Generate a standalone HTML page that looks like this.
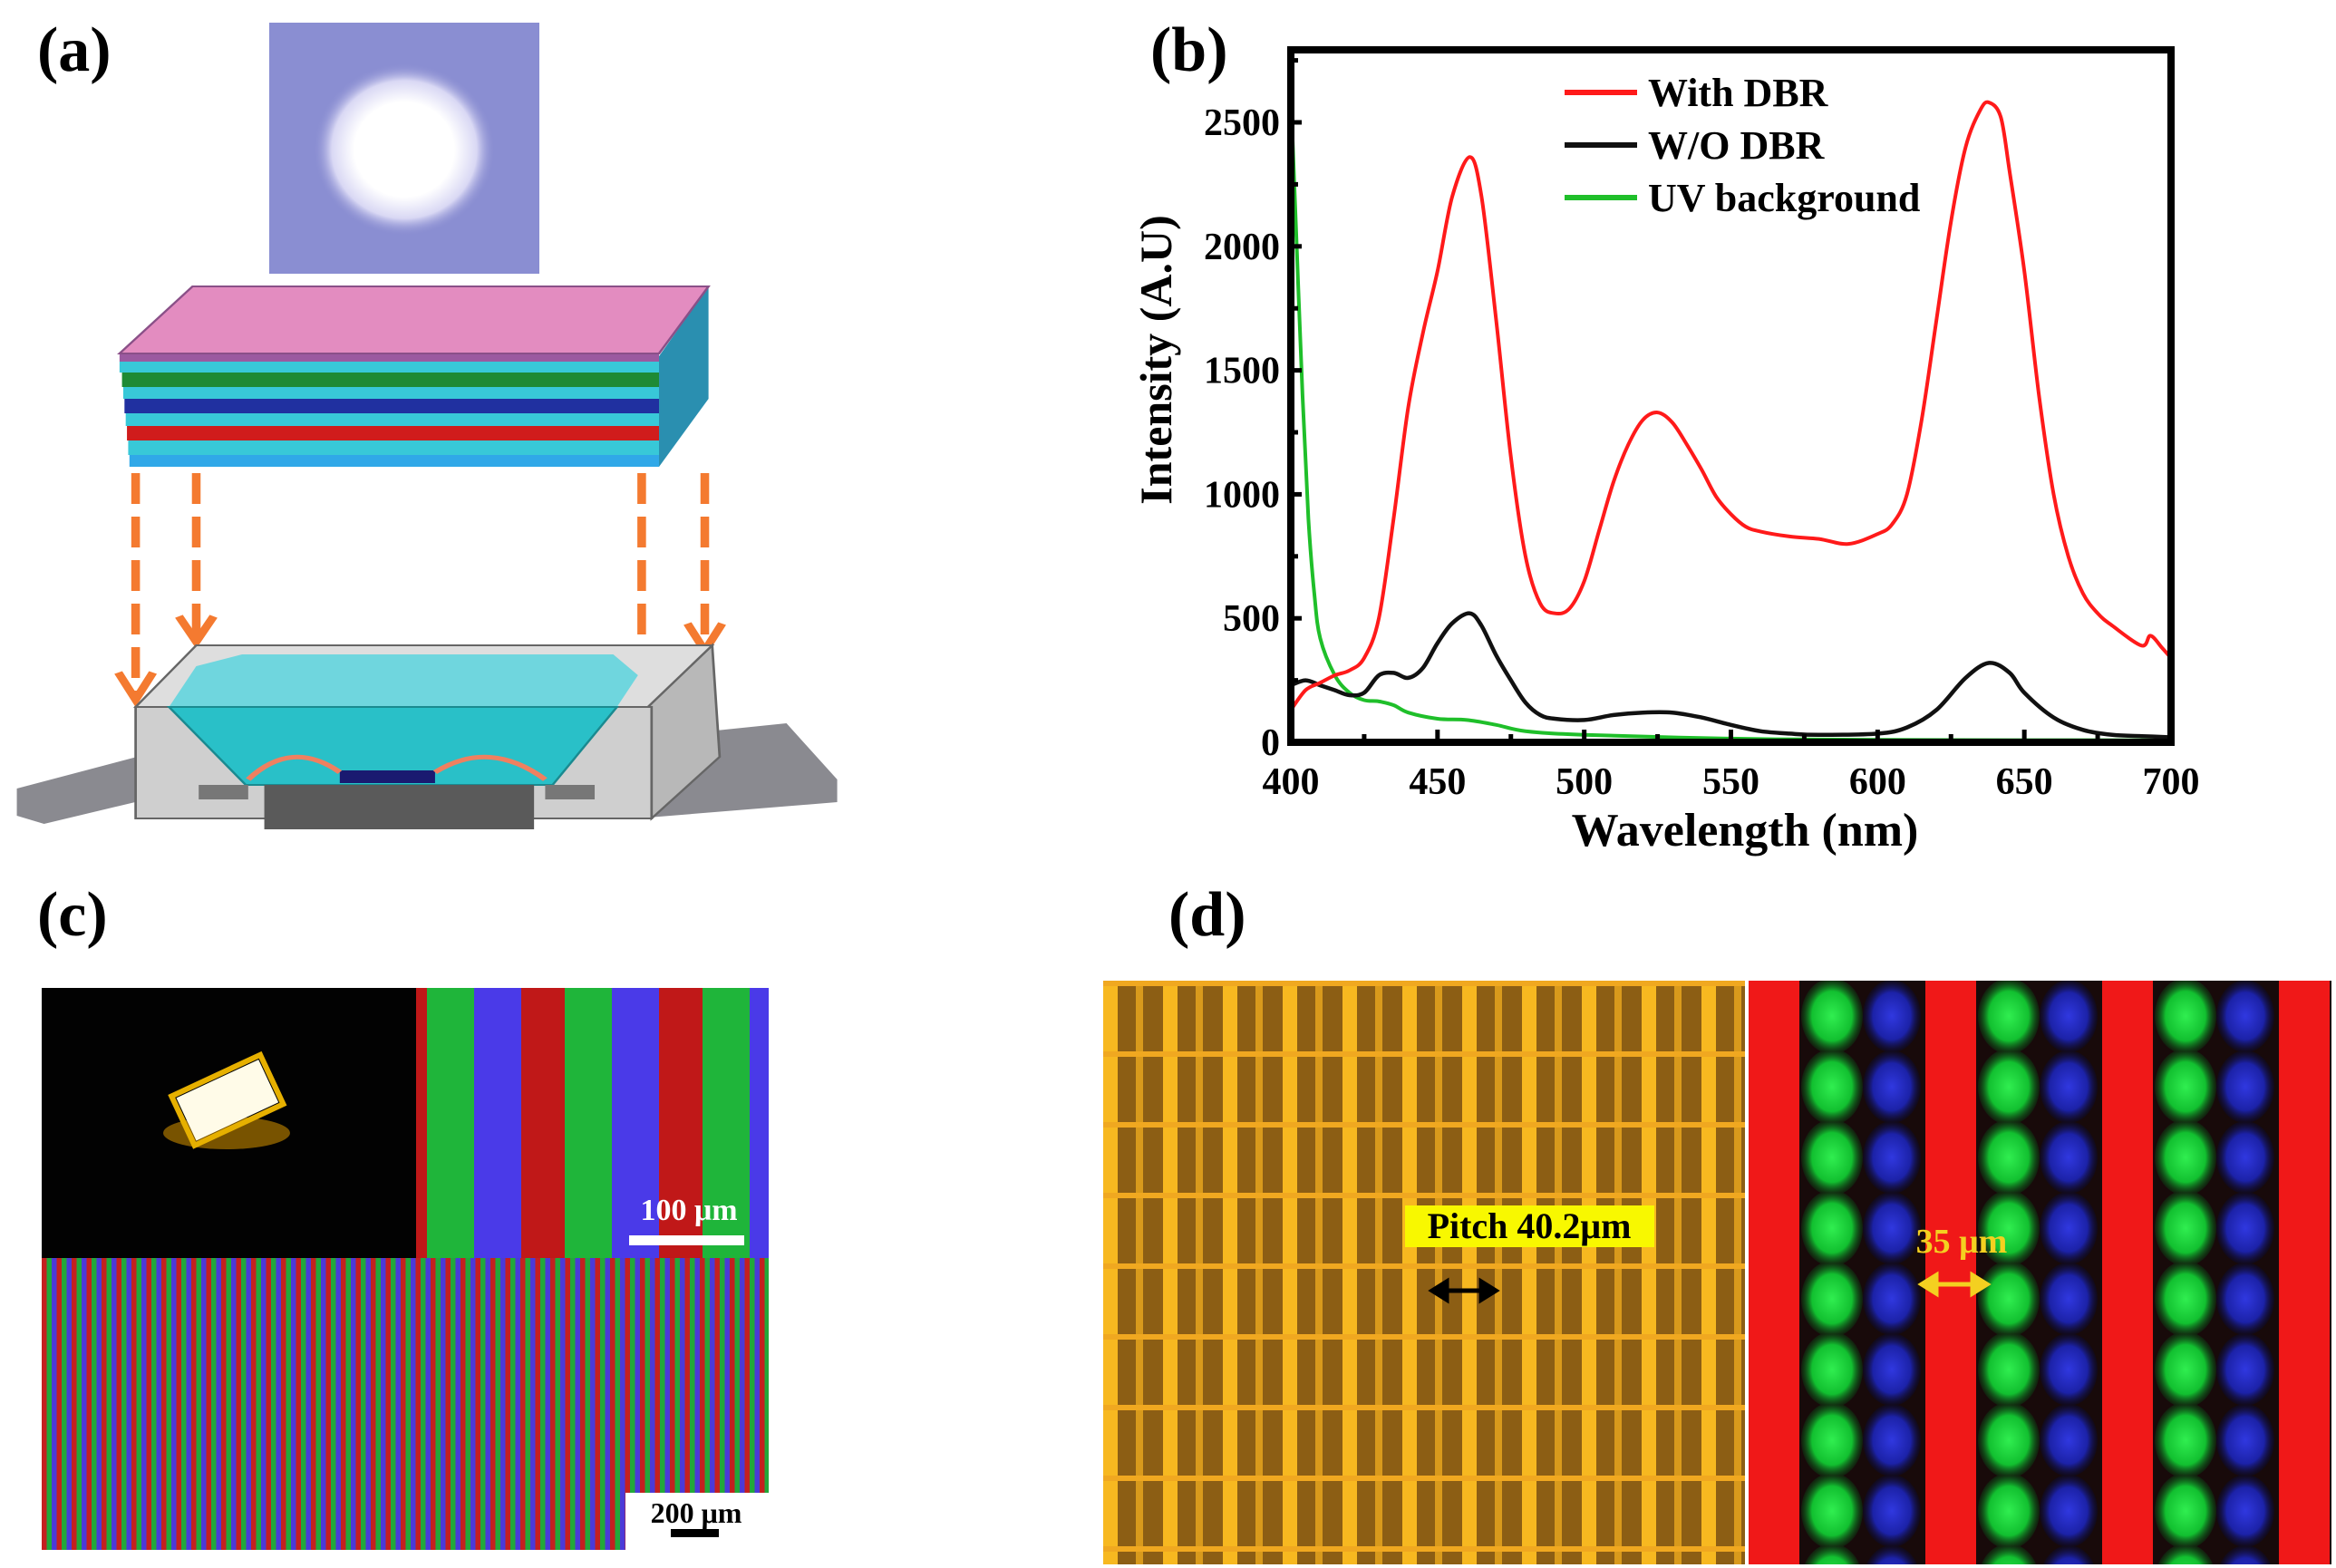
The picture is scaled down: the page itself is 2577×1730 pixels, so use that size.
<!DOCTYPE html>
<html><head><meta charset="utf-8"><title>Figure</title>
<style>
html,body{margin:0;padding:0;background:#fff;}
svg{display:block;}
text{font-family:"Liberation Serif",serif;font-weight:bold;}
</style></head>
<body>
<svg id="fig" width="2577" height="1730" viewBox="0 0 2577 1730" xmlns="http://www.w3.org/2000/svg">
<defs>
  <radialGradient id="glow" cx="0.5" cy="0.5" r="0.5">
    <stop offset="0" stop-color="#ffffff"/><stop offset="0.55" stop-color="#ffffff"/><stop offset="0.8" stop-color="#d9d8f4"/><stop offset="1" stop-color="#8d90d2" stop-opacity="0"/>
  </radialGradient>
  <pattern id="stripesTop" x="471" y="0" width="152" height="40" patternUnits="userSpaceOnUse">
    <rect x="0" y="0" width="52" height="40" fill="#1fb53a"/>
    <rect x="52" y="0" width="52" height="40" fill="#4a3ae8"/>
    <rect x="104" y="0" width="48" height="40" fill="#c01818"/>
  </pattern>
  <pattern id="stripesBot" x="46" y="0" width="16.5" height="40" patternUnits="userSpaceOnUse">
    <rect x="0" y="0" width="5.5" height="40" fill="#c42020"/>
    <rect x="5.5" y="0" width="5.5" height="40" fill="#22a83a"/>
    <rect x="11" y="0" width="5.5" height="40" fill="#4b3ad8"/>
  </pattern>
  <pattern id="gold" x="1217" y="1082" width="66" height="78" patternUnits="userSpaceOnUse">
    <rect width="66" height="78" fill="#8c5e14"/>
    <rect x="0" y="0" width="16" height="78" fill="#f7b820"/>
    <rect x="36" y="0" width="8" height="78" fill="#d99a1c"/>
    <rect x="0" y="0" width="66" height="6" fill="#f0a820"/>
  </pattern>
  <radialGradient id="gblob" cx="0.5" cy="0.5" r="0.5"><stop offset="0" stop-color="#30ee50"/><stop offset="0.65" stop-color="#12c030"/><stop offset="1" stop-color="#0a4014" stop-opacity="0.4"/></radialGradient>
  <radialGradient id="bblob" cx="0.5" cy="0.5" r="0.5"><stop offset="0" stop-color="#3038e0"/><stop offset="0.65" stop-color="#1c22a8"/><stop offset="1" stop-color="#0a0a30" stop-opacity="0.4"/></radialGradient>
  <pattern id="rgbPix" x="1929" y="1082" width="195" height="78" patternUnits="userSpaceOnUse">
    <rect width="195" height="78" fill="#180a0a"/>
    <rect x="0" y="0" width="56" height="78" fill="#f01818"/>
    <ellipse cx="92" cy="39" rx="34" ry="42" fill="url(#gblob)"/>
    <ellipse cx="158" cy="39" rx="32" ry="40" fill="url(#bblob)"/>
  </pattern>
</defs>

<!-- Panel labels -->
<text x="41" y="78" font-size="70">(a)</text>
<text x="1269" y="78" font-size="70">(b)</text>
<text x="41" y="1032" font-size="70">(c)</text>
<text x="1289" y="1032" font-size="70">(d)</text>

<!-- Panel (a) -->
<g>
  <rect x="297" y="25" width="298" height="277" fill="#8a8ed2"/>
  <ellipse cx="446" cy="165" rx="100" ry="95" fill="url(#glow)"/>
  <g transform="matrix(1.365 0 0 1 -6 0)">
  <g>
    <polygon points="537,393 577,316 577,440 537,515" fill="#2a8fb0"/>
    <rect x="101" y="390" width="436" height="9" fill="#9b5aa0"/>
    <rect x="101" y="399" width="436" height="12" fill="#38c8d8"/>
    <rect x="103" y="411" width="434" height="16" fill="#1e8a34"/>
    <rect x="104" y="427" width="433" height="13" fill="#38c8d8"/>
    <rect x="105" y="440" width="432" height="16" fill="#2030a0"/>
    <rect x="106" y="456" width="431" height="14" fill="#38c8d8"/>
    <rect x="107" y="470" width="430" height="16" fill="#d01c1c"/>
    <rect x="108" y="486" width="429" height="16" fill="#38c8d8"/>
    <rect x="109" y="502" width="428" height="13" fill="#30a8e8"/>
    <polygon points="101,390 160,316 577,316 537,390" fill="#e38cc0" stroke="#8a5088" stroke-width="2"/>
  </g>
  <g stroke="#f47a30" stroke-width="7" stroke-dasharray="34,14" fill="none">
    <line x1="114" y1="522" x2="114" y2="765"/>
    <line x1="163" y1="522" x2="163" y2="700"/>
    <line x1="523" y1="522" x2="523" y2="770"/>
    <line x1="574" y1="522" x2="574" y2="712"/>
  </g>
  <g stroke="#f47a30" stroke-width="7" fill="none">
    <polyline points="100,742 114,772 128,742"/><polyline points="149,680 163,708 177,680"/>
    <polyline points="509,745 523,775 537,745"/><polyline points="560,688 574,718 588,688"/>
  </g>
  <g>
    <polygon points="18,870 129,830 129,880 40,909 18,900" fill="#8a8a90"/>
    <polygon points="519,815 640,798 681,860 681,885 519,903" fill="#8a8a90"/>
    <polygon points="528,780 580,712 586,835 531,903" fill="#b8b8b8" stroke="#666" stroke-width="2"/>
    <rect x="114" y="780" width="417" height="123" fill="#cfcfcf" stroke="#666" stroke-width="2"/>
    <polygon points="114,780 163,712 580,712 528,780" fill="#dedede" stroke="#666" stroke-width="2"/>
    <polygon points="141,780 163,735 200,722 500,722 520,745 503,780" fill="#6fd6de"/>
    <polygon points="141,780 503,780 451,866 203,866" fill="#29c0c8" stroke="#1a8a90" stroke-width="2"/>
    <rect x="279" y="850" width="77" height="14" fill="#1a1a70"/>
    <path d="M205,860 Q240,815 279,852 M356,852 Q400,815 445,860" stroke="#ef8060" stroke-width="5" fill="none"/>
    <rect x="218" y="866" width="218" height="49" fill="#5a5a5a"/>
    <rect x="165" y="866" width="40" height="16" fill="#777"/><rect x="445" y="866" width="40" height="16" fill="#777"/>
  </g>
  </g>
</g>

<!-- Panel (b) chart -->
<g id="chart"></g>

<!-- Panel (c) -->
<g>
  <rect x="46" y="1090" width="413" height="298" fill="#020202"/>
  <ellipse cx="250" cy="1250" rx="70" ry="18" fill="#c88a00" opacity="0.6"/>
  <g transform="rotate(-25 250 1212)"><rect x="200" y="1188" width="100" height="52" fill="#fffbe8"/><rect x="196" y="1184" width="108" height="60" fill="none" stroke="#e6b000" stroke-width="6"/></g>
  <rect x="459" y="1090" width="389" height="298" fill="url(#stripesTop)"/>
  <rect x="459" y="1090" width="12" height="298" fill="#c01818"/>
  <rect x="694" y="1363" width="127" height="11" fill="#ffffff"/>
  <text x="760" y="1346" font-size="34" fill="#ffffff" text-anchor="middle">100 μm</text>
  <rect x="46" y="1388" width="802" height="322" fill="url(#stripesBot)"/>
  <rect x="690" y="1647" width="160" height="66" fill="#ffffff"/>
  <text x="768" y="1680" font-size="32" fill="#000" text-anchor="middle">200 μm</text>
  <rect x="740" y="1687" width="53" height="9" fill="#000"/>
</g>

<!-- Panel (d) -->
<g>
  <rect x="1217" y="1082" width="708" height="644" fill="url(#gold)"/>
  <rect x="1550" y="1330" width="275" height="46" fill="#f8f800"/>
  <text x="1687" y="1366" font-size="40" fill="#000" text-anchor="middle">Pitch 40.2μm</text>
  <g stroke="#000" stroke-width="5" fill="#000">
    <line x1="1590" y1="1424" x2="1640" y2="1424"/>
    <polygon points="1580,1424 1596,1414 1596,1434"/><polygon points="1650,1424 1634,1414 1634,1434"/>
  </g>
  <rect x="1929" y="1082" width="643" height="644" fill="url(#rgbPix)"/>
  <text x="2164" y="1382" font-size="38" fill="#f4d020" text-anchor="middle">35 μm</text>
  <g stroke="#f4d020" stroke-width="5" fill="#f4d020">
    <line x1="2130" y1="1417" x2="2182" y2="1417"/>
    <polygon points="2120,1417 2136,1407 2136,1427"/><polygon points="2192,1417 2176,1407 2176,1427"/>
  </g>
</g>
</svg>

<script>
const wavelengths = [400,405,410,415,420,425,430,435,440,445,450,455,461,465,470,475,480,485,490,495,500,505,510,515,520,525,530,535,540,545,550,555,560,570,580,590,600,605,610,615,620,625,630,635,638,642,645,650,655,660,665,670,675,680,690,693,697,700];
const withDBR = [130,210,240,270,290,340,500,900,1350,1650,1900,2200,2360,2200,1700,1150,750,560,520,540,650,850,1050,1200,1300,1330,1290,1200,1100,990,920,870,850,830,820,800,840,880,1000,1300,1700,2100,2400,2550,2580,2520,2300,1900,1400,1000,750,600,520,470,390,430,380,340];
const woWavelengths = [400,405,410,415,420,425,430,435,440,445,450,455,461,465,470,475,480,485,490,500,510,520,530,540,550,560,570,580,600,610,620,630,638,645,650,660,670,680,690,700];
const woDBR = [230,250,230,210,190,200,270,280,260,300,400,480,520,470,350,250,160,110,95,90,110,120,120,100,70,45,35,30,35,60,130,260,320,280,200,100,50,30,25,20];
const uvWavelengths = [400,402,404,406,408,410,415,420,425,430,435,440,450,460,470,480,500,550,600,700];
const uvBackground = [2620,2000,1400,900,600,420,270,200,170,165,150,120,95,90,70,45,30,15,10,8];
const xTicks = [400,450,500,550,600,650,700];
const yTicks = [0,500,1000,1500,2000,2500];
const legendLabels = ["With DBR","W/O DBR","UV background"];

const NS = "http://www.w3.org/2000/svg";
const X0=1424, X1=2395, Y0=819, YTOP=55;
const xScale = v => X0 + (v-400)/(300)*(X1-X0);
const yScale = v => Y0 - v*(819-135)/2500;
const g = document.getElementById('chart');
function mk(tag, attrs){const e=document.createElementNS(NS,tag);for(const k in attrs)e.setAttribute(k,attrs[k]);g.appendChild(e);return e;}
function smoothPath(xs, ys){
  const p = xs.map((x,i)=>[xScale(x), yScale(ys[i])]);
  let d = "M"+p[0][0].toFixed(1)+","+p[0][1].toFixed(1);
  for(let i=0;i<p.length-1;i++){
    const a=p[Math.max(0,i-1)], b=p[i], c=p[i+1], e=p[Math.min(p.length-1,i+2)];
    const c1=[b[0]+(c[0]-a[0])/6, b[1]+(c[1]-a[1])/6], c2=[c[0]-(e[0]-b[0])/6, c[1]-(e[1]-b[1])/6];
    d+=" C"+c1[0].toFixed(1)+","+c1[1].toFixed(1)+" "+c2[0].toFixed(1)+","+c2[1].toFixed(1)+" "+c[0].toFixed(1)+","+c[1].toFixed(1);
  }
  return d;
}
const s1 = mk('path',{d:smoothPath(uvWavelengths,uvBackground),fill:'none',stroke:'#1fbf2a','stroke-width':4});


const s2 = mk('path',{d:smoothPath(woWavelengths,woDBR),fill:'none',stroke:'#111','stroke-width':4.5});


const s3 = mk('path',{d:smoothPath(wavelengths,withDBR),fill:'none',stroke:'#ff1a1a','stroke-width':4});


const fr = mk('rect',{x:X0,y:YTOP,width:X1-X0,height:Y0-YTOP,fill:'none',stroke:'#000','stroke-width':8});


for(let v=0; v<=2750; v+=250){
  const t = mk('line',{x1:X0,x2:X0+(v%500===0?12:8),y1:yScale(v),y2:yScale(v),stroke:'#000','stroke-width':5});
  
  
}
for(let v=400; v<=700; v+=25){
  const t = mk('line',{x1:xScale(v),x2:xScale(v),y1:Y0,y2:Y0-(v%50===0?14:9),stroke:'#000','stroke-width':5});
  
  
}
yTicks.forEach(v=>{
  const t = mk('text',{x:X0-12,y:yScale(v)+14,'font-size':42,'text-anchor':'end'});
  t.textContent=String(v);
  
  
});
xTicks.forEach(v=>{
  const t = mk('text',{x:xScale(v),y:876,'font-size':42,'text-anchor':'middle'});
  t.textContent=String(v);
  
  
});
const xt = mk('text',{x:1925,y:933,'font-size':52,'text-anchor':'middle'});
xt.textContent='Wavelength (nm)';


const yt = mk('text',{x:0,y:0,'font-size':50,'text-anchor':'middle',transform:'translate(1292,397) rotate(-90)'});
yt.textContent='Intensity (A.U)';


const legColors = ['#ff1a1a','#111','#1fbf2a'];
legendLabels.forEach((lab,i)=>{
  const y = 102 + i*58;
  const ln = mk('line',{x1:1726,x2:1806,y1:y,y2:y,stroke:legColors[i],'stroke-width':6});
  
  
  const t = mk('text',{x:1818,y:y+15,'font-size':44});
  t.textContent = lab;
  
  
});
</script>
</body></html>
